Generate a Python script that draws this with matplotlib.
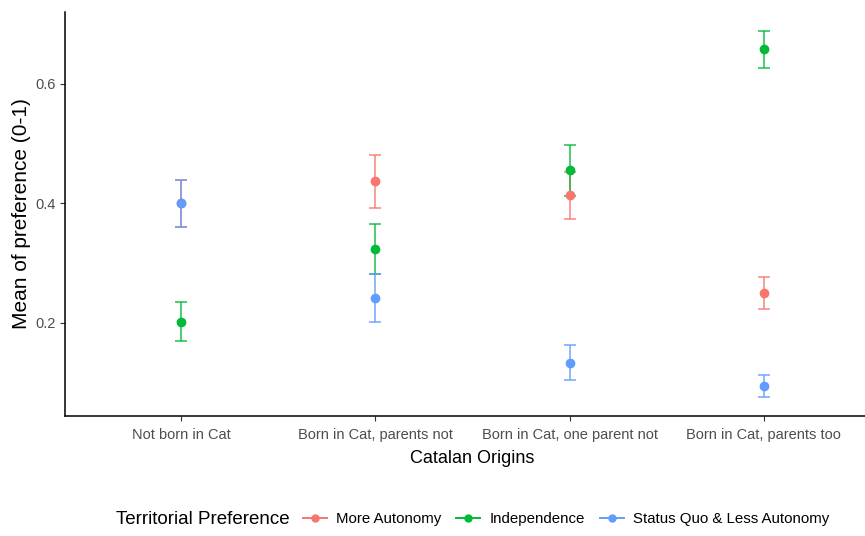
import numpy as np
import matplotlib.pyplot as plt
from matplotlib.lines import Line2D

plt.rcParams['font.family'] = ['Liberation Sans', 'DejaVu Sans']

origins = ['Not born in Cat', 'Born in Cat, parents not',
           'Born in Cat, one parent not', 'Born in Cat, parents too']
prefs = ['More Autonomy', 'Independence', 'Status Quo & Less Autonomy']
colors = ['#F8766D', '#00BA38', '#619CFF']

# means and 95% intervals, one list per preference, in origin order
mean_auto = [0.400, 0.437, 0.413, 0.250]
low_auto = [0.361, 0.392, 0.373, 0.223]
high_auto = [0.439, 0.481, 0.453, 0.277]

mean_indep = [0.202, 0.324, 0.455, 0.658]
low_indep = [0.170, 0.281, 0.412, 0.627]
high_indep = [0.234, 0.366, 0.498, 0.688]

mean_sq = [0.400, 0.241, 0.133, 0.094]
low_sq = [0.361, 0.202, 0.105, 0.076]
high_sq = [0.439, 0.281, 0.162, 0.112]

means = [mean_auto, mean_indep, mean_sq]
lows = [low_auto, low_indep, low_sq]
highs = [high_auto, high_indep, high_sq]

fig = plt.figure(figsize=(8.65, 5.36), dpi=100)
ax = fig.add_axes([65 / 865, 1 - 416 / 536, (880 - 65) / 865, (416 - 12) / 536])

x = np.arange(1, len(origins) + 1)

# error bars first, then the points on top (like the ggplot layers)
for m, lo, hi, c in zip(means, lows, highs, colors):
    m = np.array(m)
    yerr = [m - np.array(lo), np.array(hi) - m]
    ax.errorbar(x, m, yerr=yerr, fmt='none', ecolor=c, elinewidth=1.4,
                capsize=4, capthick=1.4, alpha=0.7)
for m, c in zip(means, colors):
    ax.plot(x, m, 'o', color=c, markersize=6, linestyle='none')

ax.set_xlim(0.4, 4.6)
ax.set_ylim(0.044, 0.72)
ax.set_xticks(x)
ax.set_xticklabels(origins)
ax.set_yticks([0.2, 0.4, 0.6])
ax.set_yticklabels(['0.2', '0.4', '0.6'])

for s in ['top', 'right']:
    ax.spines[s].set_visible(False)
for s in ['left', 'bottom']:
    ax.spines[s].set_linewidth(1.1)
    ax.spines[s].set_color('black')
ax.tick_params(axis='both', length=3.5, width=0.8, color='#333333',
               labelcolor='#4D4D4D', labelsize=10.5, pad=3)
ax.tick_params(axis='x', pad=5)

ax.set_xlabel('Catalan Origins', fontsize=13, labelpad=6)
ax.set_ylabel('Mean of preference (0-1)', fontsize=15, labelpad=3)

handles = [Line2D([0], [0], color=c, marker='o', markersize=5, lw=1.4)
           for c in colors]
fig.text(116 / 865, 1 - 519 / 536, 'Territorial Preference', fontsize=13.5,
         ha='left', va='center')
fig.legend(handles, prefs, loc='center', ncol=3, frameon=False,
           bbox_to_anchor=(566 / 865, 1 - 519 / 536), fontsize=10.8,
           handlelength=1.6, handletextpad=0.6, columnspacing=1.0)

fig.savefig('out.png', dpi=100)
